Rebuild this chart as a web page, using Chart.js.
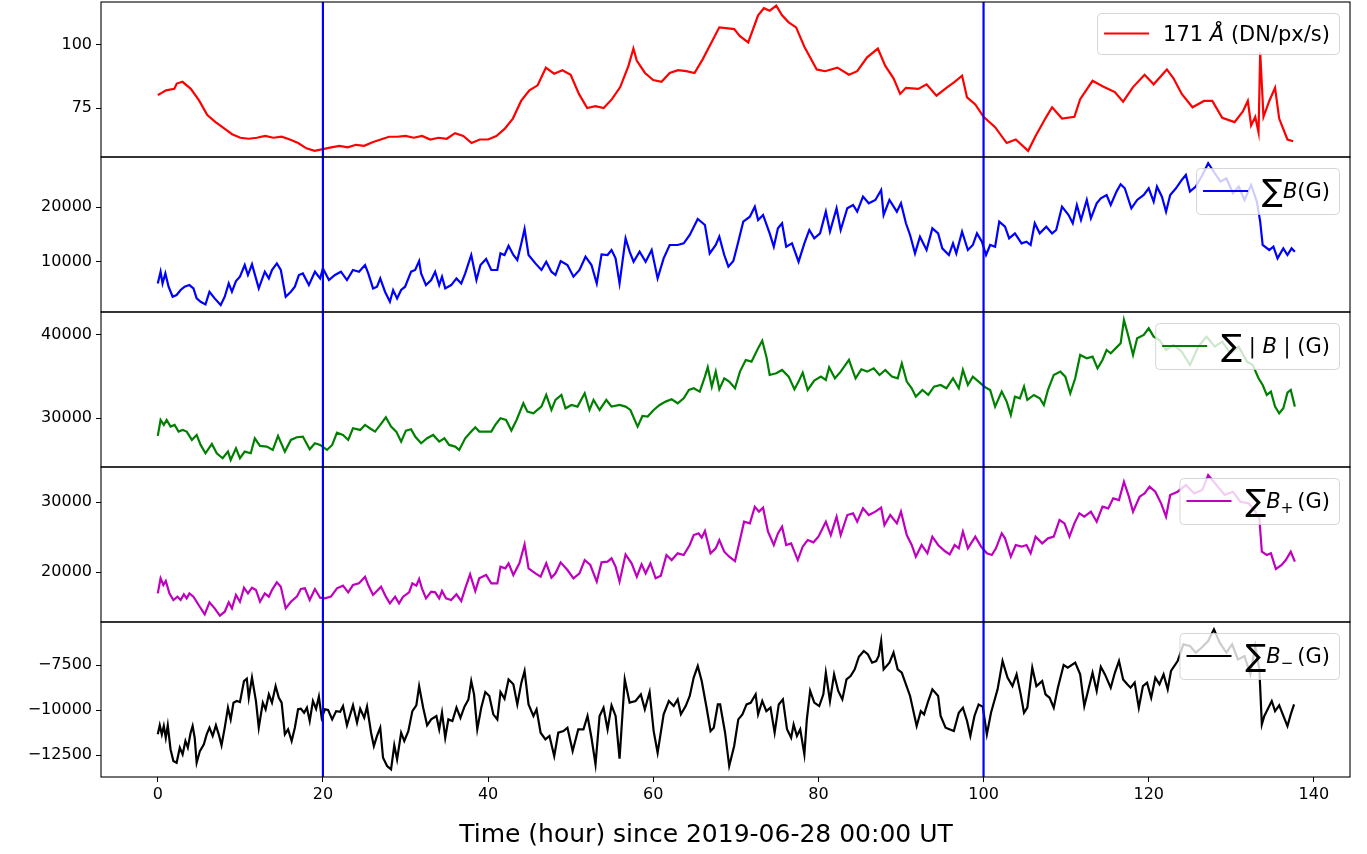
<!DOCTYPE html>
<html>
<head>
<meta charset="utf-8">
<script src="https://cdn.jsdelivr.net/npm/chart.js@4.4.1/dist/chart.umd.min.js"></script>
<style>
    html, body { margin: 0; padding: 0; background: #fff; }
    #wrap { position: relative; width: 1367px; height: 854px; overflow: hidden; }
    #wrap canvas { position: absolute; left: 0; }
</style>
</head>
<body>
<div id="wrap"></div>
<script>
// Series data: [hour since 2019-06-28 00:00 UT, value]
const flux171 = [
    [0,80.1],[1,82],[2,82.6],[2.3,84.7],[3,85.4],[4,82.6],[5,78],[6,72.2],[7,69.4],[8,67],[9,64.6],[10,63.2],
    [11,62.8],[12,63.2],[13,63.9],[14,63.2],[15,63.6],[16,62.5],[17,61.1],[18,59],[19,58],[20,58.7],[21,59.4],
    [22,60],[23,59.4],[24,60.4],[25,60],[26,61.4],[27,62.5],[28,63.6],[29,63.6],[30,63.9],[31,63.2],[32,63.9],
    [33,62.5],[34,63.2],[35,62.8],[36,65],[37,63.9],[38,61.1],[39,62.5],[40,62.5],[41,63.9],[42,66.7],[43,70.8],
    [44,77.8],[45,82],[46,84],[47,91],[48,88.6],[49,90],[50,88.2],[51,80.6],[52,75],[53,75.7],[54,75],[55,78.5],
    [56,83.3],[57,91.7],[57.6,98.6],[58,93.8],[59,88.9],[60,86.1],[61,85.4],[62,88.9],[63,90],[64,89.6],[65,88.9],
    [66,94.4],[67,100.7],[68,107],[68.8,106.7],[69.8,106.3],[70.5,103.5],[71.5,101],[72.7,111.8],[73.4,114.6],
    [74.1,113.6],[74.9,115.6],[75.6,111.8],[76.4,109],[77.3,107],[78.3,99.3],[79.8,90.3],[80.8,89.6],[82.3,91],
    [83.7,88.2],[84.7,89.6],[85.9,95.1],[87.2,98.6],[88.1,91.7],[89.1,86.8],[89.9,80.6],[90.6,83],[92.1,82.6],
    [93.1,84.4],[94.3,79.9],[95.5,83],[96.5,85.4],[97.4,87.8],[98,79.2],[99,76.4],[100,71.5],[101.4,67.4],
    [102.8,61.1],[103.9,62.5],[105.4,58],[106.3,63.9],[107.6,71.5],[108.3,75.3],[109.5,70.8],[111,71.5],
    [111.7,78.5],[113.2,85.8],[114.4,83.6],[115.9,81.3],[116.9,77.5],[118.1,83.3],[119.5,88.2],[120.6,84.4],
    [122.2,90.3],[123,86.8],[124,80.6],[125.3,75.3],[126.7,77.8],[127.7,77.8],[128.9,71.1],[130.4,69.4],
    [131.4,73.6],[132,77.8],[132.4,68.1],[132.9,71.5],[133.3,65.3],[133.5,97],[133.9,71.5],[134.6,77.8],
    [135.3,83],[135.8,70.8],[136.8,62.5],[137.5,61.8]
];

const sumB = [
    [0,6010],[0.34,8160],[0.58,6010],[0.92,7850],[1.31,5400],[1.8,3560],[2.28,3865],[2.77,4790],[3.25,5400],
    [3.83,5700],[4.32,5090],[4.71,3250],[5.19,2640],[5.78,2150],[6.26,4480],[6.89,3250],[7.62,2020],[8.11,3560],
    [8.59,6010],[8.98,4480],[9.47,6440],[9.95,7240],[10.53,9390],[10.92,7550],[11.41,9510],[12.23,5090],
    [12.96,8160],[13.45,6930],[13.83,8470],[14.42,9690],[14.9,8470],[15.49,3560],[16.12,4480],[16.6,5400],
    [17.09,7550],[17.57,7850],[18.3,5700],[19.03,8160],[19.66,6930],[20,8770],[20.73,6620],[21.46,7550],
    [22.18,8160],[22.91,6620],[23.64,8470],[24.37,8160],[25.1,9390],[25.49,7850],[26.07,5090],[26.55,5400],
    [26.94,6930],[27.52,4480],[28.11,2640],[28.5,4790],[28.98,3250],[29.47,4790],[29.95,5400],[30.68,8160],
    [31.17,8470],[31.65,10120],[31.89,7850],[32.48,5700],[33.11,6620],[33.59,8160],[34.08,5700],[34.42,7240],
    [34.81,5090],[35.53,5700],[36.17,6930],[36.75,6010],[37.23,7850],[37.96,11230],[38.59,6620],[39.08,9390],
    [39.76,10490],[40.39,8470],[41.12,8470],[41.5,11530],[41.99,11230],[42.48,12940],[43.06,11230],[43.54,10310],
    [44.03,13370],[44.42,16010],[44.9,11230],[45.73,9690],[46.46,8470],[47.04,10000],[47.67,8160],[48.16,7550],
    [48.79,10120],[49.61,9390],[50.34,7240],[51.07,8470],[51.8,10920],[52.52,9390],[53.16,6010],[53.74,11350],
    [54.47,11230],[54.95,12150],[55.44,10610],[55.92,6010],[56.65,14290],[57.14,11840],[57.62,10000],
    [58.35,11840],[59.08,10000],[59.81,12150],[60.53,6930],[61.26,10610],[61.99,13070],[62.96,13070],
    [63.69,13370],[64.42,14910],[65.39,17850],[66.26,16750],[66.84,11530],[67.57,13070],
    [68.0,14600],[68.6,11230],[69.1,9080],[69.7,10120],[70.2,13070],[70.9,17360],[71.7,18280],[72.3,20120],
    [72.7,17670],[73.3,18590],[74.1,15210],[74.6,12760],[75.1,16130],[75.6,17060],[76.1,12760],[76.8,13370],
    [77.6,10000],[78.3,13370],[78.9,15830],[79.5,14290],[80.2,15210],[80.9,19200],[81.4,15520],[82.2,19820],
    [82.7,15830],[83.5,19820],[84.2,20430],[84.7,19200],[85.4,21960],[86.1,20740],[86.9,21350],[87.6,23190],
    [87.9,18590],[88.6,21350],[89.5,19200],[90.0,20740],[90.6,17060],[91.1,14910],[91.7,11530],[92.3,14600],
    [93.1,12150],[93.8,16130],[94.5,15210],[95.0,12450],[95.8,11230],[96.3,13370],[96.7,11530],[97.4,15520],
    [98.1,12150],[98.7,13070],[99.2,15210],[99.8,13680],[100.3,11230],[100.8,13070],[101.4,12760],[101.9,17360],
    [102.6,16440],[103.1,14290],[103.8,15210],[104.6,13370],[105.2,13680],[105.7,13070],[106.2,17060],
    [106.8,15210],[107.6,16440],[108.3,15210],[108.8,15830],[109.5,20120],[110.3,18590],[110.8,17060],
    [111.3,20430],[111.8,17670],[112.5,21350],[113.0,17980],[113.7,20740],[114.2,21660],[114.9,22270],
    [115.4,20430],[116.1,22890],[116.6,24230],[117.1,23500],[117.9,19820],[118.6,21350],[119.4,22270],
    [120.0,23500],[120.6,21040],[121.0,23800],[121.6,21960],[122.1,19200],[122.6,22270],[123.3,23500],
    [124.0,25030],[124.5,25950],[125.0,22890],[125.7,23800],[126.5,25950],[127.2,28100],[128.0,26260],
    [128.7,24720],[129.4,25340],[130.2,22580],[130.9,23800],[131.6,21350],[132.4,24110],[133.1,21040],
    [133.5,17360],[133.8,13070],[134.6,12150],[135.1,12760],[135.6,10610],[136.3,12450],[136.8,11230],
    [137.3,12450],[137.7,11840]
];

const sumAbsB = [
    [0,27880],[0.34,29800],[0.73,29200],[1.07,29800],[1.55,29000],[2.04,29200],[2.52,28400],[3.01,28600],
    [3.5,28400],[4.13,27400],[4.71,28000],[5.19,26800],[5.78,25800],[6.55,26920],[7.14,25800],[7.86,25200],
    [8.5,26000],[8.83,25000],[9.47,26400],[9.95,25200],[10.53,26000],[11.26,25800],[11.75,27600],[12.38,26680],
    [13.2,26600],[13.93,26200],[14.56,27880],[15.39,26000],[16.12,27400],[16.84,27720],[17.57,27800],
    [18.4,26280],[19.03,27000],[19.66,26800],[20.49,26200],[21.12,26800],[21.7,28280],[22.43,28000],
    [23.06,27400],[23.64,28800],[24.51,28600],[25.1,29200],[25.68,28800],[26.31,28400],[26.94,29200],
    [27.62,30120],[28.25,29000],[28.88,28400],[29.47,27200],[30.05,28520],[30.68,28680],[31.17,27800],
    [31.89,27000],[32.62,27600],[33.35,28000],[34.08,27200],[34.71,27600],[35.29,26800],[36.02,26600],
    [36.5,26200],[37.23,27600],[37.96,28400],[38.45,28920],[38.93,28400],[39.66,28400],[40.39,28400],
    [40.87,29200],[41.5,30000],[42.18,29800],[42.82,28520],[43.45,29800],[44.27,31800],[44.76,30800],
    [45.49,30600],[45.97,31000],[46.46,31400],[47.04,32800],[47.67,31000],[48.16,32200],[48.88,32800],
    [49.37,31200],[50.1,31600],[50.83,31400],[51.7,33000],[52.28,31000],[52.77,32200],[53.5,31000],
    [54.32,32200],[54.95,31400],[55.92,31600],[56.65,31400],[57.23,31000],[58.11,29000],[58.69,30280],
    [59.32,30200],[60.05,31000],[60.78,31600],[61.5,32000],[62.23,32280],[62.96,31800],[63.69,32400],
    [64.32,33400],[64.9,33600],[65.63,33200],[66.26,35000],[66.6,36120],[67.09,33800],[67.57,35600],
    [68.0,33480],[68.6,34800],[69.2,34400],[69.9,33600],[70.5,35600],[71.2,37000],[71.9,36800],[72.7,38400],
    [73.2,39320],[73.7,37400],[74.1,35200],[74.9,35400],[75.6,35800],[76.4,35000],[77.1,33480],[77.6,34400],
    [78.1,35480],[78.7,33400],[79.5,34520],[80.3,35000],[80.9,34600],[81.3,36120],[82.0,34800],[82.7,35600],
    [83.7,37000],[84.5,34800],[85.2,35880],[85.9,35600],[86.7,36000],[87.4,35200],[88.1,35800],[88.9,35000],
    [89.6,34800],[90.1,36600],[90.7,34400],[91.3,33600],[91.8,32600],[92.6,33400],[93.3,32800],[94.0,33800],
    [94.8,34000],[95.5,33600],[96.3,34800],[97.0,33600],[97.5,35800],[98.1,34000],[98.7,35000],[99.4,34400],
    [100.2,33720],[100.8,33400],[101.4,31400],[102.2,33200],[102.8,32000],[103.3,30400],[103.8,32600],
    [104.4,32400],[104.9,33800],[105.3,32200],[106.1,32800],[106.8,32400],[107.3,31600],[107.8,33400],
    [108.5,35200],[109.3,35600],[109.9,35000],[110.5,33000],[111.1,34800],[111.7,37600],[112.5,37200],
    [113.2,37400],[113.8,36000],[114.4,37000],[114.9,38200],[115.4,37800],[116.2,38600],[116.6,39000],
    [117.0,41800],[117.5,40000],[118.1,37600],[118.6,39600],[119.4,40000],[120.0,40800],[120.6,39800],
    [121.3,39400],[122.1,38200],[123.0,38800],[124.0,38000],[125.0,36400],[126.0,38600],[127.0,39800],
    [128.0,38600],[128.9,39200],[129.9,37800],[130.9,38600],[131.9,36800],[132.6,36400],[133.3,34800],
    [133.8,34000],[134.3,32800],[134.8,33200],[135.3,31400],[135.8,30600],[136.3,31200],[136.8,33080],
    [137.2,33400],[137.7,31400]
];

const sumBplus = [
    [0,16950],[0.34,19100],[0.68,18140],[0.97,18710],[1.41,16950],[1.89,16000],[2.38,16480],[2.77,16000],
    [3.16,16810],[3.5,16240],[3.83,16950],[4.32,16480],[4.95,15290],[5.68,13950],[6.26,15670],[6.89,14810],
    [7.52,13760],[8.11,14330],[8.59,15670],[8.98,14810],[9.47,16720],[9.95,15760],[10.44,17760],[10.92,16950],
    [11.41,17760],[11.89,17430],[12.38,15760],[12.96,16950],[13.45,16480],[13.83,17430],[14.42,18520],
    [14.9,17900],[15.49,14810],[16.12,15760],[16.84,16480],[17.33,17570],[17.82,17670],[18.4,16000],
    [19.03,17570],[19.66,16330],[20.24,16240],[20.97,16480],[21.7,17670],[22.43,18050],[23.06,17100],
    [23.64,18140],[24.37,18380],[25.1,19330],[25.49,18140],[26.07,16720],[27.04,17900],[27.62,16480],
    [28.11,15520],[28.74,16480],[29.22,15520],[29.71,16480],[30.44,17100],[30.83,18380],[31.31,18050],
    [31.65,19000],[31.99,17670],[32.48,16240],[33.11,17190],[33.59,17100],[34.08,16240],[34.42,17290],
    [34.9,16240],[35.53,16000],[36.17,16810],[36.75,15860],[37.23,17670],[37.82,19670],[38.45,17290],
    [38.93,19100],[39.76,19570],[40.39,18380],[41.12,18380],[41.5,20760],[42.09,20520],[42.48,21240],
    [43.06,19570],[43.79,21240],[44.42,23950],[44.9,20520],[45.73,19810],[46.36,19330],[47.04,21240],
    [47.67,19190],[48.16,19810],[48.79,21380],[49.61,20290],[50.34,19100],[51.07,19810],[51.7,21710],
    [52.38,21000],[53.16,18620],[53.74,21380],[54.47,21480],[54.95,21950],[55.44,20760],[55.92,18620],
    [56.65,22520],[57.38,21240],[58.01,19330],[58.59,21100],[59.08,19810],[59.66,21240],[60.29,19100],
    [60.92,19480],[61.6,22430],[62.23,21710],[62.96,22670],[63.69,22430],[64.42,23860],[64.9,25280],
    [65.49,25520],[65.87,24900],[66.26,25860],[66.94,22670],[67.57,23380],
    [68.0,24570],[68.6,22900],[69.2,22190],[69.9,21570],[70.5,24570],[71.0,27190],[71.7,26950],[72.3,29330],
    [72.8,28620],[73.3,29190],[73.9,25760],[74.6,23860],[75.1,25520],[75.6,26470],[76.1,23860],[76.7,24090],
    [77.5,21710],[78.1,23620],[78.7,24570],[79.4,24240],[80.0,25050],[80.9,27190],[81.5,25280],[82.2,27900],
    [82.7,25280],[83.5,28140],[84.2,28380],[84.7,27190],[85.4,29090],[86.1,28140],[86.9,28620],[87.6,29190],
    [88.0,26710],[88.7,28140],[89.5,26950],[90.0,28620],[90.7,25280],[91.3,23860],[91.8,22190],[92.5,23860],
    [93.2,22670],[93.8,25050],[94.5,23860],[95.3,23000],[95.9,22520],[96.5,23860],[97.0,23380],[97.5,25760],
    [98.1,23380],[99.0,25050],[99.7,23620],[100.4,22670],[101.0,22430],[101.5,23380],[102.2,25520],
    [102.6,24810],[103.3,22190],[103.9,23860],[104.6,23620],[105.2,23860],[105.7,22670],[106.3,25050],
    [107.1,24090],[107.8,24810],[108.5,25050],[109.2,27430],[109.8,26950],[110.4,25050],[111.0,26950],
    [111.6,28380],[112.2,27900],[113.0,28620],[113.7,27190],[114.4,29330],[115.1,29090],[115.7,30520],
    [116.4,30280],[117.0,32900],[117.6,30760],[118.1,28620],[118.9,30760],[119.5,31230],[120.1,32190],
    [120.8,31470],[121.5,29810],[122.1,27900],[122.6,31000],[123.5,31470],[124.5,32420],[125.5,31230],
    [126.5,31710],[127.2,33850],[128.2,32420],[129.2,31000],[130.2,31470],[131.1,30040],[132.1,29810],
    [132.9,28620],[133.4,27660],[133.7,22900],[134.3,22430],[134.8,22670],[135.4,20430],[136.1,21000],
    [136.6,21710],[137.2,22900],[137.7,21480]
];

const sumBminus = [
    [0,-11350],[0.24,-10850],[0.49,-11350],[0.73,-10890],[0.97,-11540],[1.21,-10850],[1.55,-12190],
    [1.89,-12830],[2.28,-12930],[2.67,-12090],[3.01,-12460],[3.35,-11720],[3.64,-12090],[3.98,-11260],
    [4.22,-10890],[4.47,-11540],[4.71,-12930],[5.1,-12280],[5.58,-11910],[5.92,-11350],[6.26,-10980],
    [6.65,-11440],[7.04,-10850],[7.38,-11350],[7.72,-11960],[8.11,-10980],[8.5,-9870],[8.83,-10520],
    [9.17,-9590],[9.56,-9500],[9.95,-9560],[10.44,-8390],[10.78,-8260],[11.02,-9320],[11.41,-8200],
    [11.89,-9500],[12.23,-10980],[12.72,-9590],[13.06,-9960],[13.45,-9130],[13.83,-9590],[14.27,-8670],
    [14.66,-9320],[15.0,-9590],[15.39,-11350],[15.78,-11070],[16.21,-11720],[16.6,-10980],[16.99,-9960],
    [17.33,-9930],[17.72,-10150],[18.06,-9870],[18.4,-10610],[18.79,-9500],[19.17,-9930],[19.51,-9260],
    [19.85,-10430],[20.24,-9960],[20.63,-10000],[21.12,-10520],[21.6,-10060],[22.09,-10100],[22.43,-9780],
    [22.91,-10850],[23.25,-10330],[23.64,-9740],[24.13,-10700],[24.51,-9930],[25.0,-10430],[25.34,-9810],
    [25.83,-11260],[26.17,-12000],[26.55,-11440],[26.94,-10980],[27.28,-12650],[27.77,-13110],[28.25,-13300],
    [28.64,-11960],[28.98,-12740],[29.47,-11260],[29.85,-11720],[30.34,-11170],[30.83,-10060],[31.31,-9740],
    [31.65,-8670],[32.14,-9870],[32.62,-10850],[33.11,-10520],[33.74,-10330],[34.08,-11070],[34.42,-10150],
    [34.81,-11540],[35.19,-10520],[35.68,-10610],[36.17,-9870],[36.65,-10430],[37.14,-9810],[37.62,-9410],
    [37.96,-8390],[38.3,-9130],[38.69,-11070],[39.17,-9870],[39.66,-9000],[40.15,-9220],[40.63,-10240],
    [41.12,-10520],[41.5,-9000],[41.99,-9370],[42.48,-8300],[43.06,-8570],[43.54,-9690],[44.03,-8480],
    [44.42,-7830],[44.9,-9690],[45.49,-10330],[45.87,-9960],[46.36,-11260],[46.94,-11630],[47.43,-11440],
    [48.01,-12560],[48.5,-11260],[49.13,-11170],[49.61,-10980],[50.24,-12280],[50.92,-11070],[51.55,-11070],
    [52.04,-10330],[52.52,-11540],[53.01,-13020],[53.5,-10330],[53.98,-9870],[54.47,-11070],[54.95,-9740],
    [55.44,-10330],[55.92,-12700],[56.55,-8300],[57.14,-9590],[57.86,-9500],[58.5,-9130],[58.98,-9960],
    [59.56,-9000],[60.05,-11170],[60.53,-12370],[61.26,-10240],[61.89,-9500],[62.48,-9780],[62.96,-9410],
    [63.35,-10240],[63.93,-9780],[64.42,-9220],[64.9,-8200],[65.39,-7560],[65.87,-8390],[66.46,-9870],
    [66.94,-11170],[67.33,-10980],[67.82,-9690],
    [68.1,-9690],[68.7,-11260],[69.2,-13110],[69.8,-12000],[70.3,-10520],[70.8,-10240],[71.3,-9690],
    [71.8,-9600],[72.4,-9130],[72.7,-10240],[73.2,-9500],[73.7,-10060],[74.2,-9870],[74.7,-11260],
    [75.2,-9690],[75.7,-9410],[76.2,-11070],[76.7,-11540],[77.0,-10800],[77.4,-11440],[77.8,-11070],
    [78.3,-12460],[78.6,-10520],[79.0,-8940],[79.5,-9590],[80.1,-9780],[80.6,-9130],[80.9,-7930],
    [81.4,-9500],[81.9,-8020],[82.4,-8940],[82.9,-9410],[83.4,-8300],[83.9,-8110],[84.4,-7740],[84.9,-7040],
    [85.5,-6720],[86.0,-6910],[86.5,-7370],[87.0,-7280],[87.3,-7000],[87.6,-6170],[87.9,-7740],[88.6,-7370],
    [89.1,-6810],[89.6,-7740],[90.1,-7930],[90.6,-8570],[91.1,-9220],[91.9,-10890],[92.4,-10060],
    [92.8,-10240],[93.3,-9500],[93.8,-8850],[94.5,-9220],[94.8,-10330],[95.4,-10980],[96.4,-11170],
    [97.0,-10150],[97.5,-9870],[98.0,-10610],[98.4,-11440],[98.9,-10330],[99.4,-9690],[99.9,-9810],
    [100.4,-11350],[100.9,-10150],[101.7,-8850],[102.3,-7280],[102.9,-8200],[103.5,-8670],[104.0,-8020],
    [104.5,-9130],[104.9,-10150],[105.3,-9870],[105.9,-7650],[106.4,-8670],[107.1,-8390],[107.5,-9130],
    [108.0,-9320],[108.5,-9870],[109.0,-8760],[109.7,-7500],[110.2,-7650],[111.1,-7370],[111.7,-8020],
    [112.2,-9780],[112.7,-8850],[113.2,-7930],[113.7,-8940],[114.2,-7600],[114.7,-8020],[115.4,-8760],
    [115.9,-7930],[116.4,-7280],[116.9,-8300],[117.4,-8570],[117.8,-8760],[118.3,-8480],[118.8,-9870],
    [119.3,-8670],[119.8,-8480],[120.3,-9320],[120.8,-8200],[121.3,-8570],[121.8,-8020],[122.3,-8850],
    [122.7,-7830],[123.5,-7280],[124.2,-6350],[125.0,-6440],[125.7,-6810],[126.4,-6540],[127.2,-6170],
    [127.9,-5520],[128.6,-6260],[129.4,-6810],[130.1,-6350],[130.8,-7190],[131.6,-7000],[132.3,-8020],
    [132.9,-6440],[133.4,-7740],[133.7,-10800],[134.0,-10330],[134.9,-9500],[135.3,-10060],[135.8,-9740],
    [136.8,-10890],[137.2,-10240],[137.6,-9690]
];

// Axis ticks and markers
const xTicks = [0, 20, 40, 60, 80, 100, 120, 140];
const ticks171 = [75, 100];
const ticksSumB = [10000, 20000];
const ticksAbsB = [30000, 40000];
const ticksBplus = [20000, 30000];
const ticksBminus = [-12500, -10000, -7500];
const markerHours = [20, 100];
const xTitle = 'Time (hour) since 2019-06-28 00:00 UT';

const FAMILY = 'DejaVu Sans';
const TICK_SIZE = 16;
const LEGEND_SIZE = 21;

// Legend text pieces: [text, style]
const panels = [
    { data: flux171, color: '#ff0000', min: 55.56, max: 117.06, ticks: ticks171, top: 2, boxH: 41,
      legend: [['171 ', 'n'], ['\u00c5', 'i'], [' (DN/px/s)', 'n']] },
    { data: sumB, color: '#0000ff', min: 750, max: 29250, ticks: ticksSumB, top: 157, boxH: 46,
      legend: [['\u2211', 'big'], ['B', 'i'], ['(G)', 'n']] },
    { data: sumAbsB, color: '#008000', min: 24150, max: 42760, ticks: ticksAbsB, top: 312, boxH: 46,
      legend: [['\u2211', 'big'], [' | ', 'n'], ['B', 'i'], [' | (G)', 'n']] },
    { data: sumBplus, color: '#bf00bf', min: 12860, max: 35000, ticks: ticksBplus, top: 467, boxH: 46,
      legend: [['\u2211', 'big'], ['B', 'i'], ['+', 'sub'], ['(G)', 'n']] },
    { data: sumBminus, color: '#000000', min: -13720, max: -5110, ticks: ticksBminus, top: 622, boxH: 46,
      legend: [['\u2211', 'big'], ['B', 'i'], ['\u2212', 'sub'], ['(G)', 'n']] }
];

function pieceFont(style) {
    if (style === 'i') return `italic ${LEGEND_SIZE}px "${FAMILY}"`;
    if (style === 'big') return `31px "${FAMILY}"`;
    if (style === 'sub') return `15px "${FAMILY}"`;
    return `${LEGEND_SIZE}px "${FAMILY}"`;
}

function drawLegend(ctx, area, opts) {
    const pieces = opts.legend;
    let textW = 0;
    pieces.forEach(([t, s]) => { ctx.font = pieceFont(s); textW += ctx.measureText(t).width + (s === 'sub' ? 4 : 0); });
    const w = 7 + 45 + 14 + textW + 9;
    const h = opts.boxH;
    const x0 = area.right - 11 - w;
    const y0 = area.top + 11;
    const cy = y0 + h / 2;

    ctx.beginPath();
    ctx.roundRect(x0 + 0.5, y0 + 0.5, w, h, 4);
    ctx.fillStyle = 'rgba(255,255,255,0.8)';
    ctx.fill();
    ctx.strokeStyle = 'rgba(204,204,204,0.8)';
    ctx.lineWidth = 1;
    ctx.stroke();

    ctx.beginPath();
    ctx.moveTo(x0 + 7, cy);
    ctx.lineTo(x0 + 52, cy);
    ctx.strokeStyle = opts.color;
    ctx.lineWidth = 2.2;
    ctx.stroke();

    ctx.fillStyle = '#000';
    ctx.textBaseline = 'alphabetic';
    ctx.textAlign = 'left';
    let tx = x0 + 66;
    const base = cy + 7;
    pieces.forEach(([t, s]) => {
        ctx.font = pieceFont(s);
        const dy = s === 'sub' ? 5 : (s === 'big' ? 3 : 0);
        ctx.fillText(t, tx, base + dy);
        tx += ctx.measureText(t).width + (s === 'sub' ? 4 : 0);
    });
}

// Markers, frame, legend and the shared x title drawn over the data
const panelDecor = {
    id: 'panelDecor',
    afterDatasetsDraw(chart, args, opts) {
        const { ctx, chartArea: a, scales: { x } } = chart;
        ctx.save();
        ctx.strokeStyle = '#0000ff';
        ctx.lineWidth = 2.2;
        markerHours.forEach(h => {
            const px = x.getPixelForValue(h);
            ctx.beginPath();
            ctx.moveTo(px, a.top);
            ctx.lineTo(px, a.bottom);
            ctx.stroke();
        });
        ctx.strokeStyle = '#000';
        ctx.lineWidth = 1.1;
        ctx.strokeRect(a.left, a.top, a.right - a.left, a.bottom - a.top);
        drawLegend(ctx, a, opts);
        if (opts.showTitle) {
            ctx.fillStyle = '#000';
            ctx.font = `25px "${FAMILY}"`;
            ctx.textAlign = 'center';
            ctx.textBaseline = 'middle';
            ctx.fillText(xTitle, 706, a.bottom + 58);
        }
        ctx.restore();
    }
};

const fmt = v => (v < 0 ? '\u2212' + Math.abs(v) : String(v));
const noPad = s => { s.paddingTop = 0; s.paddingBottom = 0; s.paddingLeft = 0; s.paddingRight = 0; };
const wrap = document.getElementById('wrap');

panels.forEach((p, i) => {
    const last = i === panels.length - 1;
    const canvas = document.createElement('canvas');
    const top = p.top - 10;
    const height = last ? 854 - top : 175;
    canvas.width = 1367;
    canvas.height = height;
    canvas.style.top = top + 'px';
    canvas.style.width = '1367px';
    canvas.style.height = height + 'px';
    wrap.appendChild(canvas);

    new Chart(canvas.getContext('2d'), {
        type: 'line',
        data: {
            datasets: [{
                data: p.data.map(([t, v]) => ({ x: t, y: v })),
                borderColor: p.color,
                borderWidth: 2.2,
                pointRadius: 0,
                tension: 0,
                fill: false
            }]
        },
        options: {
            animation: false,
            responsive: false,
            maintainAspectRatio: false,
            layout: { padding: { left: 0, right: 17, top: 10, bottom: last ? 0 : 10 } },
            plugins: {
                legend: { display: false },
                tooltip: { enabled: false },
                panelDecor: { legend: p.legend, color: p.color, boxH: p.boxH, showTitle: last }
            },
            scales: {
                x: {
                    type: 'linear',
                    min: -6.875,
                    max: 144.375,
                    display: last,
                    afterBuildTicks: s => { s.ticks = xTicks.map(v => ({ value: v })); },
                    afterFit: s => { s.height = last ? 77 : 0; noPad(s); },
                    grid: { display: true, drawOnChartArea: false, drawTicks: true, tickLength: 5, color: '#000', lineWidth: 1 },
                    border: { display: false },
                    ticks: { color: '#000', font: { family: FAMILY, size: TICK_SIZE }, padding: 3, maxRotation: 0 }
                },
                y: {
                    type: 'linear',
                    min: p.min,
                    max: p.max,
                    afterBuildTicks: s => { s.ticks = p.ticks.map(v => ({ value: v })); },
                    afterFit: s => { s.width = 101; noPad(s); },
                    grid: { display: true, drawOnChartArea: false, drawTicks: true, tickLength: 5, color: '#000', lineWidth: 1 },
                    border: { display: false },
                    ticks: { color: '#000', font: { family: FAMILY, size: TICK_SIZE }, padding: 4, callback: fmt }
                }
            }
        },
        plugins: [panelDecor]
    });
});
</script>
</body>
</html>
